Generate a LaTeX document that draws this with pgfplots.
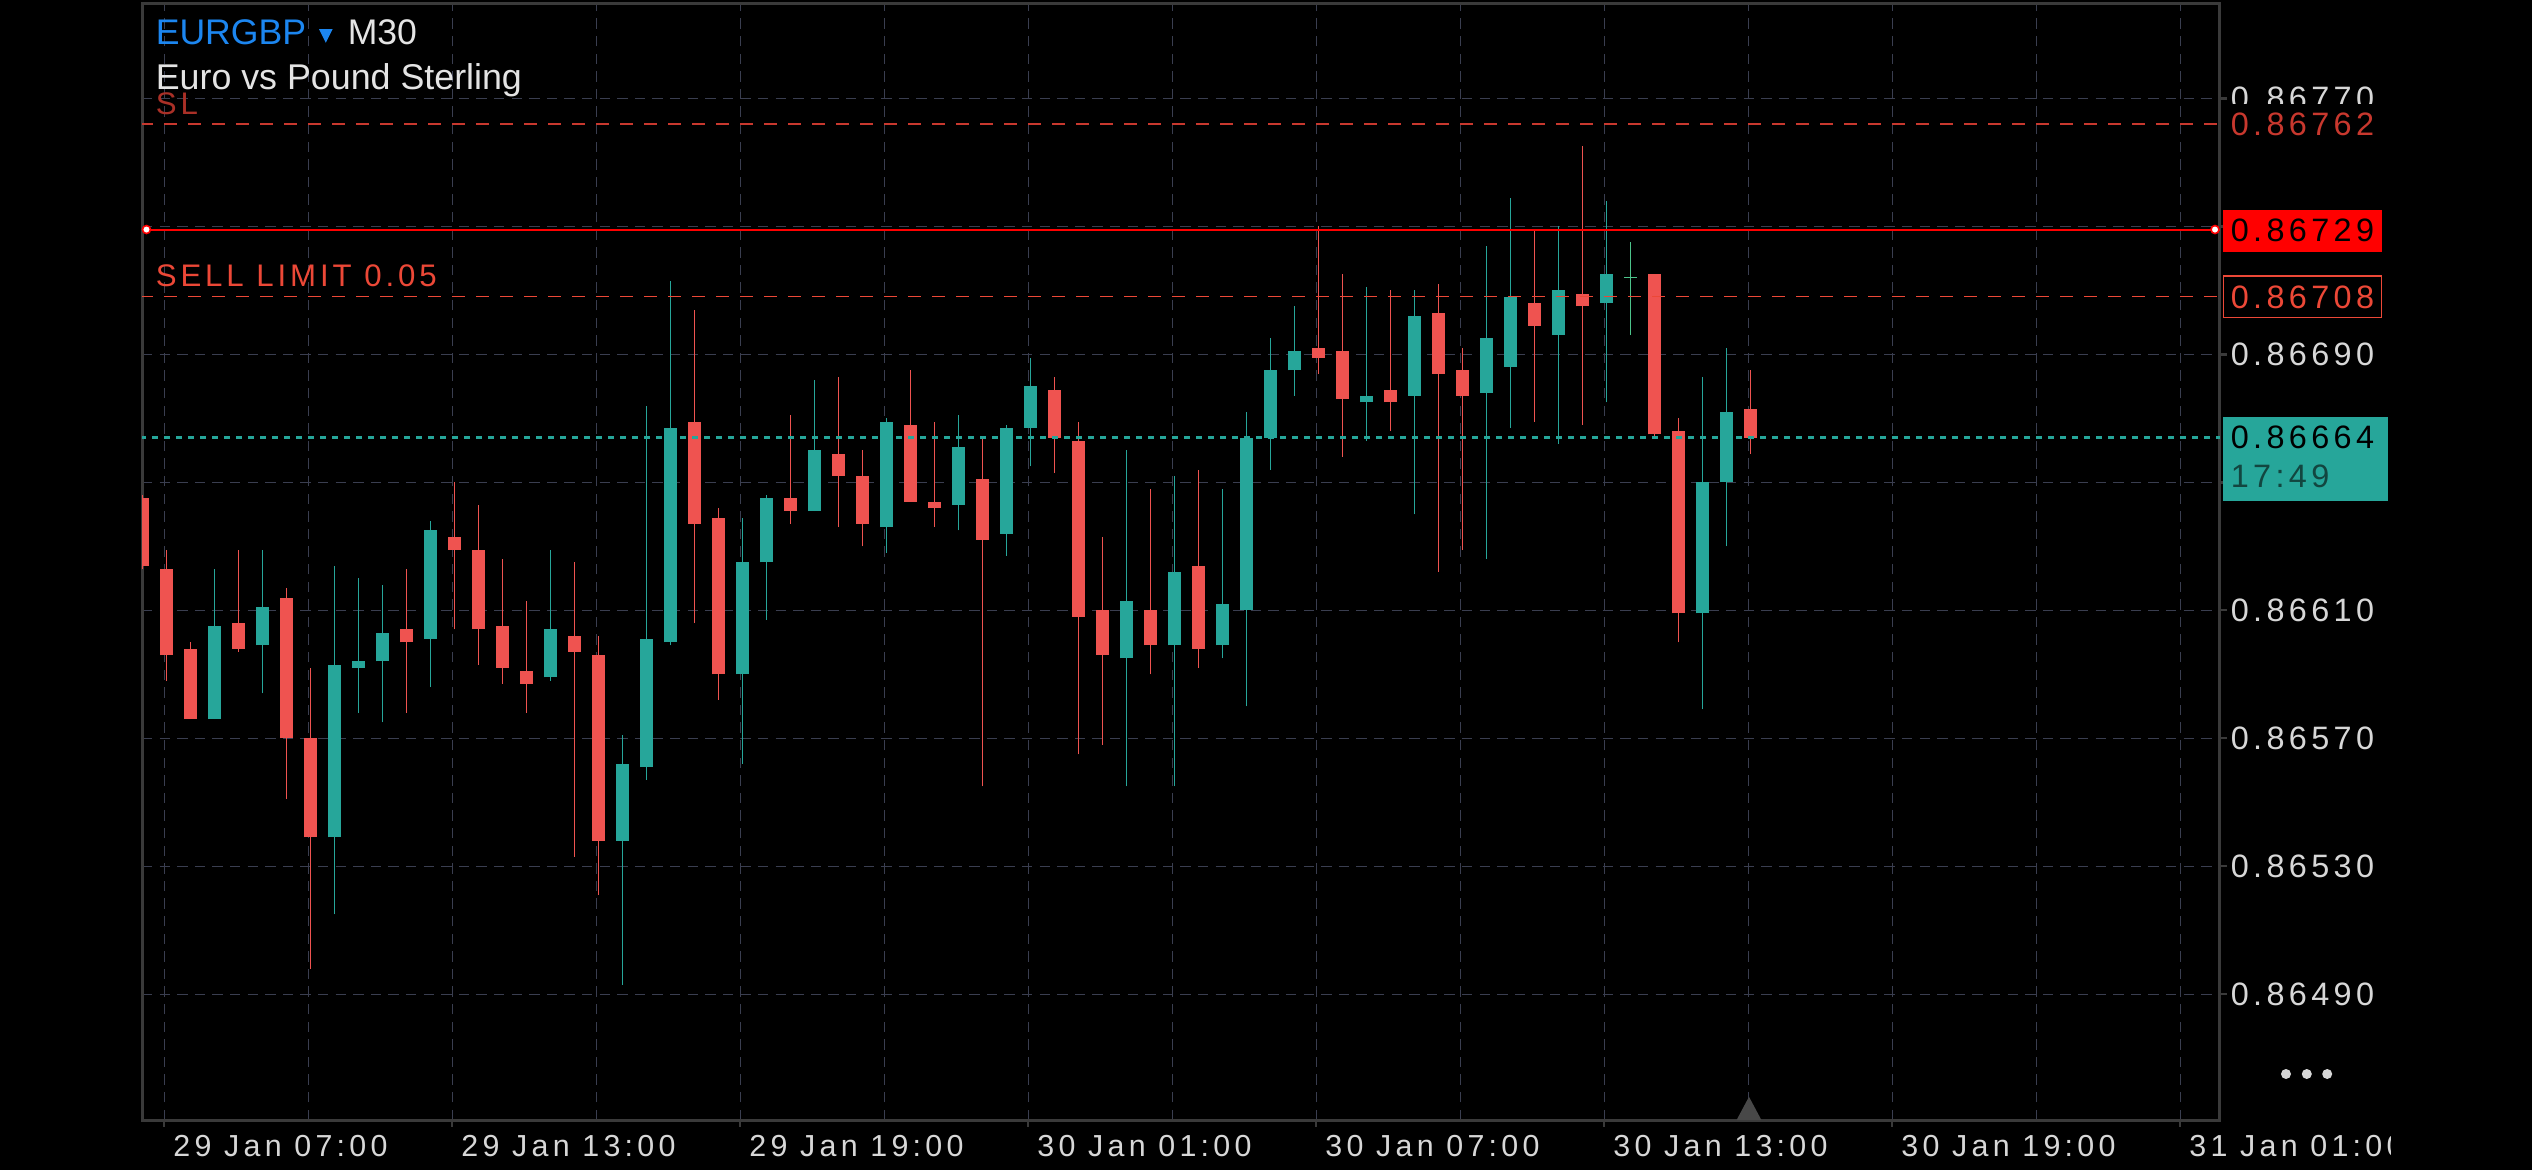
\documentclass[border=0pt]{standalone}
\usepackage{pgfplots}
\pgfplotsset{compat=1.18}
\usepackage{pgfplotstable}
\usepackage{fontspec}
\setmainfont{Liberation Sans}
\newfontfamily\ylabfont{Liberation Sans}[LetterSpace=13.5]
\newfontfamily\xlabfont{Liberation Sans}[LetterSpace=14]
\newfontfamily\ordfont{Liberation Sans}[LetterSpace=12.5]

\definecolor{bull}{HTML}{26A69A}
\definecolor{bear}{HTML}{EF5350}
\definecolor{doji}{HTML}{4CC38A}
\definecolor{gridc}{RGB}{58,62,80}
\definecolor{frame}{RGB}{58,58,58}
\definecolor{marker}{RGB}{72,72,72}
\definecolor{ticktext}{RGB}{215,215,215}
\definecolor{hdrtext}{RGB}{228,228,228}
\definecolor{slred}{RGB}{200,56,46}
\definecolor{ordred}{RGB}{236,72,55}
\definecolor{limred}{RGB}{255,0,0}
\definecolor{eurblue}{RGB}{28,134,240}
\definecolor{darkteal}{RGB}{18,70,64}

% M30 candles, t = candle index (0 = 29 Jan 07:00)
\pgfplotstableread{
t  O       H       L       C
-1 0.86645 0.86646 0.86623 0.86624
0  0.86623 0.86629 0.86588 0.86596
1  0.86598 0.86600 0.86576 0.86576
3  0.86606 0.86629 0.86597 0.86598
5  0.86614 0.86617 0.86551 0.86570
6  0.86570 0.86592 0.86498 0.86539
10 0.86604 0.86623 0.86578 0.86600
12 0.86633 0.86650 0.86604 0.86629
13 0.86629 0.86643 0.86593 0.86604
14 0.86605 0.86626 0.86587 0.86592
15 0.86591 0.86613 0.86578 0.86587
17 0.86602 0.86625 0.86533 0.86597
18 0.86596 0.86602 0.86521 0.86538
22 0.86669 0.86704 0.86606 0.86637
23 0.86639 0.86642 0.86582 0.86590
26 0.86645 0.86671 0.86637 0.86641
28 0.86659 0.86683 0.86636 0.86652
29 0.86652 0.86660 0.86630 0.86637
31 0.86668 0.86685 0.86644 0.86644
32 0.86644 0.86669 0.86636 0.86642
34 0.86651 0.86664 0.86555 0.86632
37 0.86679 0.86683 0.86653 0.86664
38 0.86663 0.86669 0.86565 0.86608
39 0.86610 0.86633 0.86568 0.86596
41 0.86610 0.86648 0.86590 0.86599
43 0.86624 0.86654 0.86592 0.86598
48 0.86692 0.86730 0.86684 0.86689
49 0.86691 0.86715 0.86658 0.86676
51 0.86679 0.86710 0.86666 0.86675
53 0.86703 0.86712 0.86622 0.86684
54 0.86685 0.86692 0.86629 0.86677
57 0.86706 0.86729 0.86669 0.86699
59 0.86709 0.86755 0.86668 0.86705
62 0.86715 0.86715 0.86664 0.86665
63 0.86666 0.86670 0.86600 0.86609
66 0.86673 0.86685 0.86659 0.86664
}\beartab

\pgfplotstableread{
t  O       H       L       C
2  0.86576 0.86623 0.86576 0.86605
4  0.86599 0.86629 0.86584 0.86611
7  0.86539 0.86624 0.86515 0.86593
8  0.86592 0.86620 0.86578 0.86594
9  0.86594 0.86618 0.86575 0.86603
11 0.86601 0.86638 0.86586 0.86635
16 0.86589 0.86629 0.86588 0.86604
19 0.86538 0.86571 0.86493 0.86562
20 0.86561 0.86674 0.86557 0.86601
21 0.86600 0.86713 0.86599 0.86667
24 0.86590 0.86639 0.86562 0.86625
25 0.86625 0.86646 0.86607 0.86645
27 0.86641 0.86682 0.86641 0.86660
30 0.86636 0.86670 0.86628 0.86669
33 0.86643 0.86671 0.86635 0.86661
35 0.86634 0.86668 0.86627 0.86667
36 0.86667 0.86689 0.86655 0.86680
40 0.86595 0.86660 0.86555 0.86613
42 0.86599 0.86652 0.86555 0.86622
44 0.86599 0.86648 0.86595 0.86612
45 0.86610 0.86672 0.86580 0.86664
46 0.86664 0.86695 0.86654 0.86685
47 0.86685 0.86705 0.86677 0.86691
50 0.86675 0.86711 0.86663 0.86677
52 0.86677 0.86710 0.86640 0.86702
55 0.86678 0.86724 0.86626 0.86695
56 0.86686 0.86739 0.86667 0.86708
58 0.86696 0.86730 0.86662 0.86710
60 0.86706 0.86738 0.86675 0.86715
64 0.86609 0.86683 0.86579 0.86650
65 0.86650 0.86692 0.86630 0.86672
}\bulltab

\pgfplotstableread{
t  O       H       L       C
61 0.86714 0.86725 0.86696 0.86714
}\dojitab

\pgfplotsset{candle/.style={forget plot, draw=none, no markers,
  error bars/.cd, y dir=plus, y explicit, error mark=none}}

\begin{document}
\begin{tikzpicture}
\fill[black] (0,0) rectangle (633pt,292.5pt);
\path[use as bounding box] (0,0) rectangle (633pt,292.5pt);
\clip (0,0) rectangle (597.5pt,292.5pt);
\begin{axis}[
  at={(35.5pt,12.5pt)}, anchor=south west,
  scale only axis, width=519.5pt, height=279.25pt,
  xmin=-1.0167, xmax=85.567,
  ymin=0.864507, ymax=0.867998,
  axis line style={draw=frame, line width=0.75pt},
  tick align=outside,
  xtick pos=bottom, ytick pos=right, yticklabel pos=right,
  major tick length=1.75pt, minor tick length=0pt,
  tick style={draw=frame, line width=0.6pt},
  xtick={-0.09,11.91,23.91,35.91,47.91,59.91,71.91,83.91},
  minor xtick={5.91,17.91,29.91,41.91,53.91,65.91,77.91},
  xticklabels={29 Jan 07:00,29 Jan 13:00,29 Jan 19:00,30 Jan 01:00,30 Jan 07:00,30 Jan 13:00,30 Jan 19:00,31 Jan 01:00},
  ytick={0.8649,0.8653,0.8657,0.8661,0.8665,0.8669,0.8673,0.8677},
  yticklabels={0.86490,0.86530,0.86570,0.86610,,0.86690,,0.86770},
  scaled y ticks=false, scaled x ticks=false,
  grid=both,
  major grid style={draw=gridc, line width=0.25pt, dash pattern=on 2.6pt off 1.8pt},
  minor grid style={draw=gridc, line width=0.25pt, dash pattern=on 2.6pt off 1.8pt},
  xticklabel style={font=\xlabfont\fontsize{7.6}{9}\selectfont, text=ticktext, anchor=base west, inner sep=0pt, xshift=2.1pt, yshift=-7.45pt},
  yticklabel style={font=\ylabfont\fontsize{8.1}{9}\selectfont, text=ticktext, anchor=west, inner sep=0pt, xshift=0.75pt},
]
% wicks
\addplot[candle, error bar style={draw=bear, line width=0.28pt}]
  table[x=t, y=L, y error expr=\thisrow{H}-\thisrow{L}] {\beartab};
\addplot[candle, error bar style={draw=bull, line width=0.28pt}]
  table[x=t, y=L, y error expr=\thisrow{H}-\thisrow{L}] {\bulltab};
\addplot[candle, error bar style={draw=doji, line width=0.28pt}]
  table[x=t, y=L, y error expr=\thisrow{H}-\thisrow{L}] {\dojitab};
% bodies
\addplot[candle, error bar style={draw=bear, line width=3.2pt}]
  table[x=t, y=C, y error expr=\thisrow{O}-\thisrow{C}] {\beartab};
\addplot[candle, error bar style={draw=bull, line width=3.2pt}]
  table[x=t, y=O, y error expr=\thisrow{C}-\thisrow{O}] {\bulltab};
\addplot[forget plot, only marks, mark=-, mark size=1.6pt, mark options={draw=doji, line width=0.35pt}]
  table[x=t, y=O] {\dojitab};
% order levels
\addplot[forget plot, slred, line width=0.3pt, dash pattern=on 3.25pt off 2.75pt] coordinates {(-1.1,0.86762) (86,0.86762)};
\addplot[forget plot, ordred, line width=0.3pt, dash pattern=on 3.25pt off 2.75pt] coordinates {(-1.1,0.86708) (86,0.86708)};
\addplot[forget plot, limred, line width=0.5pt] coordinates {(-1.1,0.86729) (86,0.86729)};
\addplot[forget plot, only marks, mark=*, mark size=1pt, mark options={draw=limred, fill=white, line width=0.4pt}]
  coordinates {(-0.83,0.86729) (85.36,0.86729)};
% current price
\addplot[forget plot, bull, line width=0.75pt, dash pattern=on 1.6pt off 1.4pt] coordinates {(-1.1,0.86664) (86,0.86664)};
\end{axis}

% price scale boxes
\fill[black] (555.9pt,256.25pt) rectangle (600pt,266.6pt);
\node[anchor=west, inner sep=0pt, text=slred, font=\ylabfont\fontsize{8.1}{9}\selectfont] at (557.5pt,261.5pt) {0.86762};
\fill[limred] (555.75pt,229.6pt) rectangle (595.4pt,240pt);
\node[anchor=west, inner sep=0pt, text=black, font=\ylabfont\fontsize{8.1}{9}\selectfont] at (557.5pt,235pt) {0.86729};
\draw[ordred, line width=0.3pt] (555.9pt,213.2pt) rectangle (595.4pt,223.5pt);
\node[anchor=west, inner sep=0pt, text=ordred, font=\ylabfont\fontsize{8.1}{9}\selectfont] at (557.5pt,218.25pt) {0.86708};
\fill[bull] (555.75pt,167.3pt) rectangle (596.9pt,188.25pt);
\node[anchor=west, inner sep=0pt, text=black, font=\ylabfont\fontsize{8.1}{9}\selectfont] at (557.5pt,183.2pt) {0.86664};
\node[anchor=west, inner sep=0pt, text=darkteal, font=\ylabfont\fontsize{8.1}{9}\selectfont] at (557.5pt,173.4pt) {17:49};
\fill[ticktext] (571.5pt,24pt) circle (1.25pt) (576.7pt,24pt) circle (1.25pt) (581.8pt,24pt) circle (1.25pt);
% current candle marker
\fill[marker] (434.15pt,12.5pt) -- (440.35pt,12.5pt) -- (437.25pt,18.3pt) -- cycle;

% header
\node[anchor=base west, inner sep=0pt, text=eurblue, font=\fontsize{8.9}{10}\selectfont] at (38.75pt,281.25pt) {EURGBP};
\fill[eurblue] (79.75pt,285.2pt) -- (83.15pt,285.2pt) -- (81.45pt,281.8pt) -- cycle;
\node[anchor=base west, inner sep=0pt, text=hdrtext, font=\fontsize{8.9}{10}\selectfont] at (86.75pt,281.25pt) {M30};
\node[anchor=base west, inner sep=0pt, text=hdrtext, font=\fontsize{8.95}{10}\selectfont] at (38.75pt,270.2pt) {Euro vs Pound Sterling};
\node[anchor=base west, inner sep=0pt, text=slred!85!black, font=\ordfont\fontsize{7.8}{9}\selectfont] at (38.75pt,263.75pt) {SL};
\node[anchor=base west, inner sep=0pt, text=ordred, font=\ordfont\fontsize{7.8}{9}\selectfont] at (38.75pt,220.8pt) {SELL LIMIT 0.05};
\end{tikzpicture}
\end{document}
